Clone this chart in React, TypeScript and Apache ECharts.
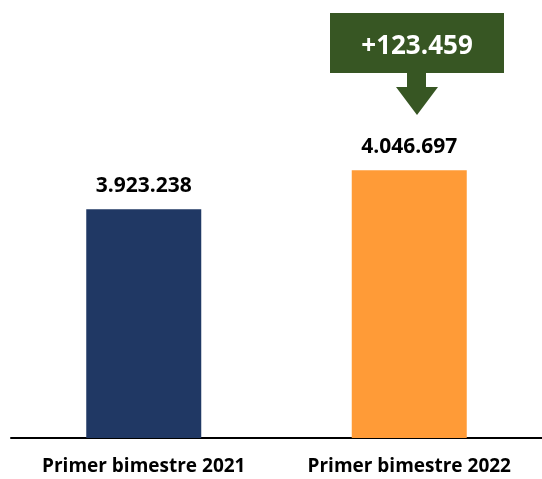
import React, { useEffect, useRef } from "react";
import * as echarts from "echarts";

const categories = ["Primer bimestre 2021", "Primer bimestre 2022"];
const values = [3923238, 4046697];
const barColors = ["#203864", "#FF9B37"];

const fmt = (v: number) => {
  const s = Math.abs(Math.round(v)).toString().replace(/\B(?=(\d{3})+(?!\d))/g, ".");
  return s;
};

export default function App() {
  const ref = useRef<HTMLDivElement>(null);
  useEffect(() => {
    if (!ref.current) return;
    const chart = echarts.init(ref.current, undefined, { renderer: "svg" });
    const delta = values[1] - values[0];
    chart.setOption({
      animation: false,
      grid: { left: 11, right: -5, top: 27, bottom: 41, containLabel: false },
      xAxis: {
        type: "category",
        data: categories,
        axisLine: { lineStyle: { color: "#000", width: 2 } },
        axisTick: { show: false },
        axisLabel: {
          color: "#000",
          fontFamily: "Open Sans",
          fontWeight: "bold",
          fontSize: 19,
          lineHeight: 20,
          margin: 17,
        },
      },
      yAxis: {
        type: "value",
        min: 3200000,
        max: 4500000,
        show: false,
        splitLine: { show: false },
      },
      series: [
        {
          type: "bar",
          barWidth: 115,
          data: values.map((v, i) => ({ value: v, itemStyle: { color: barColors[i] } })),
          label: {
            show: true,
            position: "top",
            distance: 15,
            color: "#000",
            fontFamily: "Open Sans",
            fontWeight: "bold",
            fontSize: 21,
            formatter: (p: any) => fmt(p.value),
          },
        },
      ],
      graphic: [
        {
          type: "rect",
          shape: { x: 330, y: 13, width: 174, height: 60 },
          style: { fill: "#375623" },
        },
        {
          type: "polygon",
          shape: {
            points: [
              [407, 72],
              [426, 72],
              [426, 87],
              [438, 87],
              [417, 115],
              [396, 87],
              [407, 87],
            ],
          },
          style: { fill: "#375623" },
        },
        {
          type: "text",
          x: 417,
          y: 44,
          style: {
            text: "+" + fmt(delta),
            fill: "#fff",
            fontFamily: "Open Sans",
            fontWeight: "bold",
            fontSize: 26,
            textAlign: "center",
            textVerticalAlign: "middle",
          },
        },
      ],
    });
    return () => chart.dispose();
  }, []);
  return (
    <div
      ref={ref}
      style={{ position: "fixed", left: 0, top: 0, width: 542, height: 479 }}
    />
  );
}
